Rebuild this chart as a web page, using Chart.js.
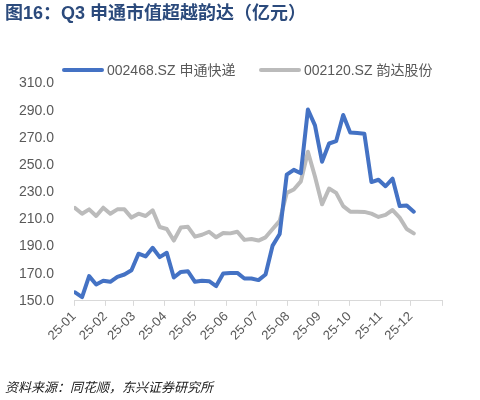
<!DOCTYPE html>
<html>
<head>
<meta charset="utf-8">
<script src="https://cdn.jsdelivr.net/npm/chart.js@4.4.1/dist/chart.umd.min.js"></script>
<style>
  body { margin: 0; background: #fff; }
  #wrap { width: 480px; height: 400px; }
</style>
</head>
<body>
<div id="wrap"><canvas id="mvChart" width="480" height="400"></canvas></div>
<script>
// weekly closing dates (2025), market cap in 亿元
const weeks = [
  '01-02','01-09','01-16','01-23','01-30','02-06','02-13','02-20','02-27',
  '03-06','03-13','03-20','03-27','04-03','04-10','04-17','04-24',
  '05-01','05-08','05-15','05-22','05-29','06-05','06-12','06-19','06-26',
  '07-03','07-10','07-17','07-24','07-31','08-07','08-14','08-21','08-28',
  '09-04','09-11','09-18','09-25','10-02','10-09','10-16','10-23','10-30',
  '11-06','11-13','11-20','11-27','12-04'
];
const sto = [
  156.3, 152.7, 168.2, 162.1, 164.8, 164.0, 167.7, 169.4, 172.5,
  184.7, 182.7, 189.1, 182.2, 185.4, 167.2, 171.3, 171.8,
  164.0, 164.8, 164.5, 160.9, 170.1, 170.6, 170.6, 166.5, 166.5,
  165.3, 169.4, 190.7, 199.2, 242.9, 246.5, 244.0, 290.9, 279.2,
  252.5, 265.9, 267.6, 286.9, 273.9, 273.6, 273.1, 237.5, 239.2,
  234.4, 240.0, 219.8, 220.3, 215.7
];
const yunda = [
  218.4, 214.2, 217.4, 212.5, 218.6, 214.2, 217.4, 217.4, 211.3,
  214.2, 212.5, 216.7, 204.4, 202.9, 194.4, 204.0, 204.5,
  197.3, 198.7, 200.9, 196.8, 200.0, 199.7, 200.9, 194.9, 195.6,
  194.4, 196.8, 202.9, 208.9, 229.5, 232.0, 238.0, 259.8, 241.6,
  221.1, 232.7, 229.5, 219.8, 215.7, 215.7, 215.5, 214.2, 211.8,
  213.3, 216.9, 211.3, 202.9, 199.7
];
const monthLabels = ['25-01','25-02','25-03','25-04','25-05','25-06',
                     '25-07','25-08','25-09','25-10','25-11','25-12'];
const yTicks = [150, 170, 190, 210, 230, 250, 270, 290, 310];

// day of year for a 'MM-DD' string
function dayOfYear(md) {
  const [m, d] = md.split('-').map(Number);
  return (Date.UTC(2025, m - 1, d) - Date.UTC(2025, 0, 1)) / 86400000;
}
const xs = weeks.map(dayOfYear);
// month boundaries (plus year end) for the axis ticks
const monthStarts = [];
for (let m = 0; m <= 12; m++) {
  monthStarts.push((Date.UTC(2025, m, 1) - Date.UTC(2025, 0, 1)) / 86400000);
}

const fontFam = '"Liberation Sans", Arial, "Noto Sans CJK SC", sans-serif';
const grey = '#595959';

// legend drawn in one row above the plot, like the original
const lineLegend = {
  id: 'lineLegend',
  afterDraw(chart) {
    const c = chart.ctx;
    const starts = [62, 259];
    const y = 70;
    c.save();
    c.font = '14px ' + fontFam;
    c.textBaseline = 'middle';
    chart.data.datasets.forEach((ds, i) => {
      const x = starts[i];
      c.strokeStyle = ds.borderColor;
      c.lineWidth = 4;
      c.lineCap = 'round';
      c.beginPath();
      c.moveTo(x + 2, y);
      c.lineTo(x + 40, y);
      c.stroke();
      c.fillStyle = grey;
      c.fillText(ds.label, x + 45, y + 1);
    });
    c.restore();
  }
};

const ctx = document.getElementById('mvChart').getContext('2d');
new Chart(ctx, {
  type: 'line',
  data: {
    datasets: [{
      label: '002468.SZ 申通快递',
      data: xs.map((x, i) => ({ x: x, y: sto[i] })),
      borderColor: '#4472C4',
      borderWidth: 4,
      pointRadius: 0,
      tension: 0,
      borderJoinStyle: 'round',
      borderCapStyle: 'round'
    }, {
      label: '002120.SZ 韵达股份',
      data: xs.map((x, i) => ({ x: x, y: yunda[i] })),
      borderColor: '#BBBBBB',
      borderWidth: 4,
      pointRadius: 0,
      tension: 0,
      borderJoinStyle: 'round',
      borderCapStyle: 'round'
    }]
  },
  plugins: [lineLegend],
  options: {
    responsive: false,
    animation: false,
    layout: { padding: { left: 5, right: 38, top: 0, bottom: 4 } },
    plugins: {
      title: {
        display: true,
        text: '图16：Q3 申通市值超越韵达（亿元）',
        align: 'start',
        color: '#2B4A7C',
        font: { family: fontFam, size: 18, weight: 'bold' },
        padding: { top: 3, bottom: 59 }
      },
      subtitle: {
        display: true,
        position: 'bottom',
        text: '资料来源：同花顺，东兴证券研究所',
        align: 'start',
        color: '#222',
        font: { family: fontFam, size: 13, style: 'italic' },
        padding: { top: 34, bottom: 0 }
      },
      legend: { display: false },
      tooltip: { enabled: false }
    },
    scales: {
      x: {
        type: 'linear',
        min: monthStarts[0],
        max: monthStarts[12],
        afterBuildTicks: function(scale) {
          scale.ticks = monthStarts.map(v => ({ value: v }));
        },
        ticks: {
          autoSkip: false,
          minRotation: 45,
          maxRotation: 45,
          color: grey,
          font: { family: fontFam, size: 13 },
          callback: function(value, index) {
            return monthLabels[index] || '';
          }
        },
        grid: {
          drawOnChartArea: false,
          drawTicks: true,
          tickLength: 5,
          color: '#D9D9D9'
        },
        border: { color: '#D9D9D9', width: 1 }
      },
      y: {
        min: 150,
        max: 310,
        afterBuildTicks: function(scale) {
          scale.ticks = yTicks.map(v => ({ value: v }));
        },
        afterFit: function(scale) { scale.width = 69; },
        ticks: {
          padding: 12,
          color: grey,
          font: { family: fontFam, size: 14 },
          callback: function(value) { return value.toFixed(1); }
        },
        grid: { display: false },
        border: { display: false }
      }
    }
  }
});
</script>
</body>
</html>
